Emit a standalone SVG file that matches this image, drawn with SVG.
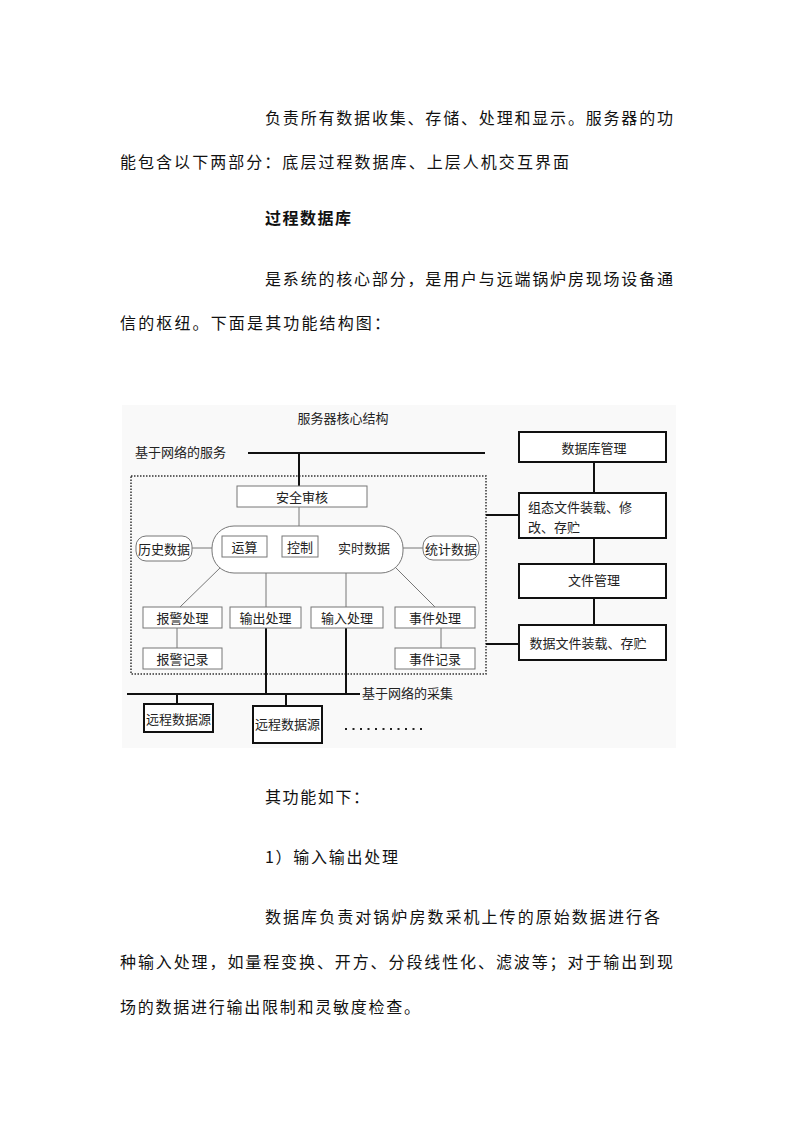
<svg xmlns="http://www.w3.org/2000/svg" width="794" height="1123" viewBox="0 0 794 1123">
<style>
.p{font-family:"Noto Sans CJK SC","Liberation Serif",serif;font-size:16px;fill:#111}
.b{font-weight:bold}
.d{font-family:"Noto Sans CJK SC","Liberation Sans",sans-serif;font-size:13px;fill:#222}
.t{text-anchor:middle;dominant-baseline:central}
.thin{fill:#fff;stroke:#777;stroke-width:1}
.thick{fill:#fff;stroke:#111;stroke-width:2}
.gl{stroke:#777;stroke-width:1;fill:none}
.bl{stroke:#111;stroke-width:2;fill:none}
</style>
<rect width="794" height="1123" fill="#fff"/>
<g id="page-text">
<text class="p" x="265" y="124" textLength="408" lengthAdjust="spacing">负责所有数据收集、存储、处理和显示。服务器的功</text>
<text class="p" x="120" y="168" textLength="449" lengthAdjust="spacing">能包含以下两部分：底层过程数据库、上层人机交互界面</text>
<text class="p b" x="265" y="224" textLength="86" lengthAdjust="spacing">过程数据库</text>
<text class="p" x="265" y="285" textLength="408" lengthAdjust="spacing">是系统的核心部分，是用户与远端锅炉房现场设备通</text>
<text class="p" x="120" y="329" textLength="270" lengthAdjust="spacing">信的枢纽。下面是其功能结构图：</text>
<text class="p" x="265" y="803" textLength="104" lengthAdjust="spacing">其功能如下：</text>
<text class="p" x="265" y="863" textLength="133" lengthAdjust="spacing">1）输入输出处理</text>
<text class="p" x="265" y="923" textLength="395" lengthAdjust="spacing">数据库负责对锅炉房数采机上传的原始数据进行各</text>
<text class="p" x="120" y="968" textLength="553" lengthAdjust="spacing">种输入处理，如量程变换、开方、分段线性化、滤波等；对于输出到现</text>
<text class="p" x="120" y="1013" textLength="300" lengthAdjust="spacing">场的数据进行输出限制和灵敏度检查。</text>
</g>
<rect x="122" y="405" width="554" height="343" fill="#f9f9f9"/>
<g id="labels">
<text class="d t" x="343" y="417" font-size="12">服务器核心结构</text>
<text class="d" x="135" y="457">基于网络的服务</text>
<text class="d" x="362" y="698">基于网络的采集</text>
<line x1="345" y1="729" x2="422" y2="729" stroke="#222" stroke-width="2" stroke-dasharray="2 5.5"/>
</g>
<g id="core-boundary">
<rect x="131" y="476" width="355" height="198" fill="none" stroke="#333" stroke-width="1.5" stroke-dasharray="1.5 1.5"/>
</g>
<g id="connectors">
<line class="bl" x1="248" y1="453" x2="485" y2="453" stroke-width="1.5"/>
<line class="bl" x1="299" y1="453" x2="299" y2="486" stroke-width="1.5"/>
<line class="gl" x1="299" y1="507" x2="299" y2="526"/>
<line class="gl" x1="192" y1="548" x2="212" y2="548"/>
<line class="gl" x1="403" y1="548" x2="423" y2="548"/>
<line class="gl" x1="222" y1="566" x2="180" y2="607"/>
<line class="gl" x1="394" y1="566" x2="435" y2="607"/>
<line class="gl" x1="266" y1="573" x2="266" y2="607"/>
<line class="gl" x1="346" y1="573" x2="346" y2="607"/>
<line class="gl" x1="177" y1="628" x2="177" y2="648"/>
<line class="gl" x1="441" y1="628" x2="441" y2="648"/>
<line class="bl" x1="266" y1="628" x2="266" y2="694"/>
<line class="bl" x1="346" y1="628" x2="346" y2="694"/>
<line class="bl" x1="127" y1="694" x2="360" y2="694"/>
<line class="bl" x1="177" y1="694" x2="177" y2="704"/>
<line class="bl" x1="286" y1="694" x2="286" y2="706"/>
<line class="bl" x1="594" y1="462" x2="594" y2="493"/>
<line class="bl" x1="594" y1="538" x2="594" y2="564"/>
<line class="bl" x1="594" y1="598" x2="594" y2="625"/>
<line class="bl" x1="486" y1="515" x2="519" y2="515"/>
<line class="bl" x1="486" y1="644" x2="519" y2="644"/>
</g>
<g id="n-audit"><rect class="thin" x="237" y="486" width="130" height="21"/><text class="d t" x="302" y="496.5">安全审核</text></g>
<g id="n-realtime"><rect class="thin" x="212" y="526" width="191" height="47" rx="22"/><text class="d t" x="364" y="547">实时数据</text></g>
<g id="n-calc"><rect class="thin" x="222" y="536" width="45" height="21"/><text class="d t" x="244.5" y="546.5">运算</text></g>
<g id="n-ctrl"><rect class="thin" x="282" y="536" width="36" height="21"/><text class="d t" x="300" y="546.5">控制</text></g>
<g id="n-hist"><rect class="thin" x="136" y="536" width="56" height="25" rx="10"/><text class="d t" x="164" y="548.5">历史数据</text></g>
<g id="n-stat"><rect class="thin" x="423" y="536" width="56" height="24" rx="10"/><text class="d t" x="451" y="548">统计数据</text></g>
<g id="n-alarm"><rect class="thin" x="143" y="607" width="79" height="21"/><text class="d t" x="182.5" y="617.5">报警处理</text></g>
<g id="n-out"><rect class="thin" x="230" y="607" width="71" height="21"/><text class="d t" x="265.5" y="617.5">输出处理</text></g>
<g id="n-in"><rect class="thin" x="311" y="607" width="72" height="21"/><text class="d t" x="347" y="617.5">输入处理</text></g>
<g id="n-event"><rect class="thin" x="395" y="607" width="80" height="21"/><text class="d t" x="435" y="617.5">事件处理</text></g>
<g id="n-alarmlog"><rect class="thin" x="143" y="648" width="79" height="21"/><text class="d t" x="182.5" y="658.5">报警记录</text></g>
<g id="n-eventlog"><rect class="thin" x="395" y="648" width="80" height="21"/><text class="d t" x="435" y="658.5">事件记录</text></g>
<g id="n-src1"><rect class="thick" x="144" y="704" width="69" height="28"/><text class="d t" x="178.5" y="718">远程数据源</text></g>
<g id="n-src2"><rect class="thick" x="253" y="706" width="69" height="37"/><text class="d t" x="287.5" y="723">远程数据源</text></g>
<g id="n-dbm"><rect class="thick" x="519" y="432" width="147" height="30"/><text class="d t" x="594" y="447">数据库管理</text></g>
<g id="n-cfg"><rect class="thick" x="519" y="493" width="147" height="45"/><text class="d" x="528" y="512">组态文件装载、修</text><text class="d" x="528" y="532">改、存贮</text></g>
<g id="n-fm"><rect class="thick" x="519" y="564" width="147" height="34"/><text class="d t" x="594" y="579">文件管理</text></g>
<g id="n-dfs"><rect class="thick" x="519" y="625" width="147" height="35"/><text class="d t" x="588" y="642">数据文件装载、存贮</text></g>
</svg>
